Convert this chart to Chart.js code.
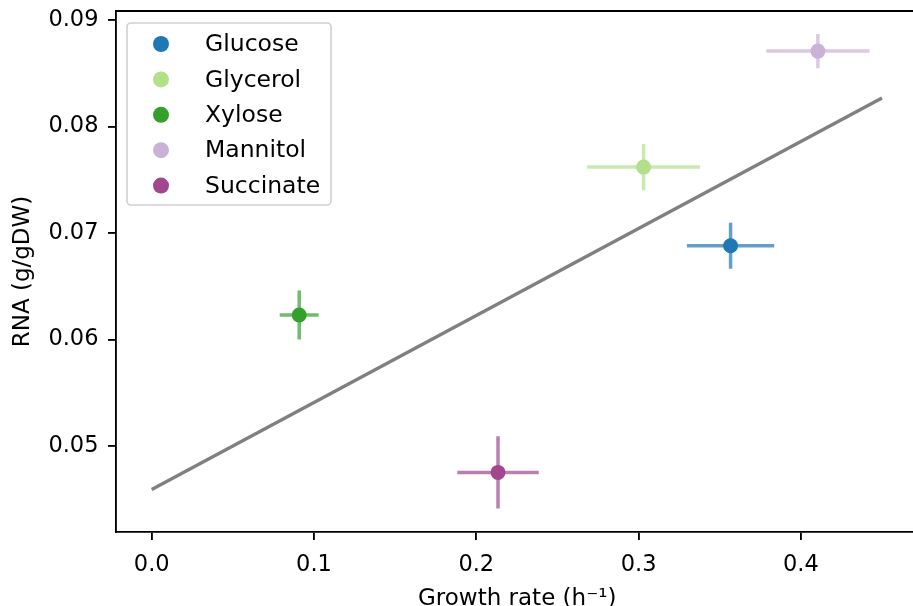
<!DOCTYPE html>
<html>
<head>
<meta charset="utf-8">
<script src="https://cdn.jsdelivr.net/npm/chart.js@4.4.1/dist/chart.umd.min.js"></script>
<style>
  html, body { margin: 0; padding: 0; background: #ffffff; overflow: hidden; }
  #wrap { width: 913px; height: 606px; overflow: hidden; position: relative; }
  #c { position: absolute; left: 0; top: 0; }
</style>
</head>
<body>
<div id="wrap"><canvas id="c" width="926" height="606"></canvas></div>
<script>
// ---- data ----
const categories = ['Glucose', 'Glycerol', 'Xylose', 'Mannitol', 'Succinate'];
const growthRate = [0.3567, 0.3031, 0.0909, 0.4105, 0.2134];
const growthErr  = [0.0269, 0.0348, 0.0120, 0.0318, 0.0251];
const rnaContent = [0.0688, 0.0762, 0.0623, 0.0871, 0.0475];
const rnaErr     = [0.00216, 0.00217, 0.0023, 0.0016, 0.0034];
const seriesColors = ['#1f78b4', '#b2df8a', '#33a02c', '#cab2d6', '#a2468f'];
const fitX = [0.0, 0.45];
const fitY = [0.0459, 0.0827];
const xTicks = [0.0, 0.1, 0.2, 0.3, 0.4];
const yTicks = [0.05, 0.06, 0.07, 0.08, 0.09];
const xLabel = 'Growth rate (h\u207B\u00B9)';
const yLabel = 'RNA (g/gDW)';

const FONT = 'DejaVu Sans';

function hexToRgba(hex, a) {
  const n = parseInt(hex.slice(1), 16);
  return `rgba(${(n >> 16) & 255},${(n >> 8) & 255},${n & 255},${a})`;
}

const datasets = categories.map((name, i) => ({
  label: name,
  type: 'scatter',
  data: [{ x: growthRate[i], y: rnaContent[i], xErr: growthErr[i], yErr: rnaErr[i] }],
  backgroundColor: seriesColors[i],
  borderColor: seriesColors[i],
  borderWidth: 0,
  pointRadius: 7.5,
  pointHoverRadius: 7.5,
  order: 1
}));
datasets.push({
  label: 'fit',
  type: 'line',
  data: fitX.map((x, i) => ({ x: x, y: fitY[i] })),
  borderColor: '#808080',
  borderWidth: 3.4,
  pointRadius: 0,
  fill: false,
  tension: 0,
  order: 2
});

const errorBars = {
  id: 'errorBars',
  beforeDatasetsDraw(chart) {
    const { ctx, chartArea, scales } = chart;
    const xs = scales.x, ys = scales.y;
    ctx.save();
    ctx.beginPath();
    ctx.rect(chartArea.left, chartArea.top, chartArea.right - chartArea.left, chartArea.bottom - chartArea.top);
    ctx.clip();
    chart.data.datasets.forEach(ds => {
      if (ds.type !== 'scatter') return;
      ds.data.forEach(p => {
        ctx.strokeStyle = hexToRgba(ds.backgroundColor, 0.7);
        ctx.lineWidth = 3.5;
        ctx.lineCap = 'butt';
        const cx = xs.getPixelForValue(p.x), cy = ys.getPixelForValue(p.y);
        ctx.beginPath();
        ctx.moveTo(xs.getPixelForValue(p.x - p.xErr), cy);
        ctx.lineTo(xs.getPixelForValue(p.x + p.xErr), cy);
        ctx.stroke();
        ctx.beginPath();
        ctx.moveTo(cx, ys.getPixelForValue(p.y - p.yErr));
        ctx.lineTo(cx, ys.getPixelForValue(p.y + p.yErr));
        ctx.stroke();
      });
    });
    ctx.restore();
  }
};

const frameAndLegend = {
  id: 'frameAndLegend',
  afterDraw(chart) {
    const { ctx, chartArea } = chart;
    ctx.save();
    // top spine
    ctx.strokeStyle = '#000000';
    ctx.lineWidth = 1.85;
    ctx.beginPath();
    ctx.moveTo(chartArea.left - 0.9, chartArea.top);
    ctx.lineTo(chartArea.right + 20, chartArea.top);
    ctx.stroke();

    // legend box
    const bx = chartArea.left + 11, by = chartArea.top + 12;
    const bw = 204, bh = 182, r = 4;
    ctx.beginPath();
    ctx.moveTo(bx + r, by);
    ctx.arcTo(bx + bw, by, bx + bw, by + bh, r);
    ctx.arcTo(bx + bw, by + bh, bx, by + bh, r);
    ctx.arcTo(bx, by + bh, bx, by, r);
    ctx.arcTo(bx, by, bx + bw, by, r);
    ctx.closePath();
    ctx.fillStyle = 'rgba(255,255,255,0.8)';
    ctx.fill();
    ctx.strokeStyle = '#d0d0d0';
    ctx.lineWidth = 1.6;
    ctx.stroke();

    ctx.font = `23.5px "${FONT}"`;
    ctx.textAlign = 'left';
    ctx.textBaseline = 'middle';
    categories.forEach((name, i) => {
      const cy = by + 21 + i * 35.4;
      ctx.fillStyle = seriesColors[i];
      ctx.beginPath();
      ctx.arc(bx + 34, cy, 8, 0, Math.PI * 2);
      ctx.fill();
      ctx.fillStyle = '#000000';
      ctx.fillText(name, bx + 78, cy + 1);
    });
    ctx.restore();
  }
};

new Chart(document.getElementById('c'), {
  data: { datasets: datasets },
  options: {
    responsive: false,
    animation: false,
    devicePixelRatio: 1,
    layout: { padding: { top: 11, right: 0, left: 0, bottom: 0 } },
    plugins: {
      legend: { display: false },
      tooltip: { enabled: false }
    },
    scales: {
      x: {
        type: 'linear',
        position: 'bottom',
        min: -0.022,
        max: 0.4725,
        afterBuildTicks: s => { s.ticks = xTicks.map(v => ({ value: v })); },
        afterFit: s => { s.height = 74; s.paddingLeft = 0; s.paddingRight = 0; },
        ticks: {
          color: '#000000',
          font: { family: FONT, size: 22.5 },
          padding: 12,
          maxRotation: 0,
          autoSkip: false,
          callback: v => Number(v).toFixed(1)
        },
        grid: { display: true, drawOnChartArea: false, drawTicks: true, tickLength: 8, color: '#000000', lineWidth: 1.85 },
        border: { display: true, color: '#000000', width: 1.85 },
        title: { display: true, text: xLabel, color: '#000000', font: { family: FONT, size: 23, lineHeight: 1 }, padding: { top: 0, bottom: -5 } }
      },
      y: {
        type: 'linear',
        position: 'left',
        min: 0.0419,
        max: 0.09087,
        afterBuildTicks: s => { s.ticks = yTicks.map(v => ({ value: v })); },
        afterFit: s => { s.width = 116; s.paddingTop = 0; s.paddingBottom = 0; },
        ticks: {
          color: '#000000',
          font: { family: FONT, size: 22.5 },
          padding: 9.5,
          autoSkip: false,
          callback: v => Number(v).toFixed(2)
        },
        grid: { display: true, drawOnChartArea: false, drawTicks: true, tickLength: 8, color: '#000000', lineWidth: 1.85 },
        border: { display: true, color: '#000000', width: 1.85 },
        title: { display: true, text: yLabel, color: '#000000', font: { family: FONT, size: 23, lineHeight: 1.2 }, padding: { top: 9, bottom: 0 } }
      }
    }
  },
  plugins: [errorBars, frameAndLegend]
});
</script>
</body>
</html>
